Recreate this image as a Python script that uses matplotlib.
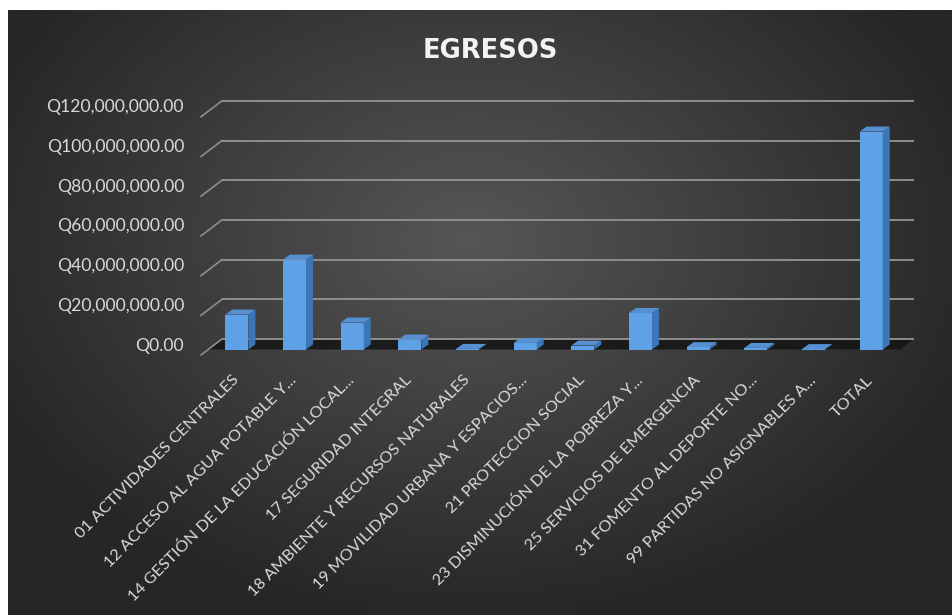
import numpy as np
import matplotlib
matplotlib.use("Agg")
import matplotlib.pyplot as plt
from matplotlib.patches import Polygon

# ---------------- data ----------------
title = "EGRESOS"
categories = [
    "01 ACTIVIDADES CENTRALES",
    "12 ACCESO AL AGUA POTABLE Y...",
    "14 GESTIÓN DE LA EDUCACIÓN LOCAL...",
    "17 SEGURIDAD INTEGRAL",
    "18 AMBIENTE Y RECURSOS NATURALES",
    "19 MOVILIDAD URBANA Y ESPACIOS...",
    "21 PROTECCION SOCIAL",
    "23 DISMINUCIÓN DE LA POBREZA Y...",
    "25 SERVICIOS DE EMERGENCIA",
    "31 FOMENTO AL DEPORTE NO...",
    "99 PARTIDAS NO ASIGNABLES A...",
    "TOTAL",
]
values = [17.6e6, 45.3e6, 13.6e6, 5.0e6, 0.3e6, 3.3e6, 2.0e6, 18.4e6, 1.2e6, 0.8e6, 0.2e6, 109.8e6]
y_ticks = [0, 20e6, 40e6, 60e6, 80e6, 100e6, 120e6]
y_tick_labels = ["Q0.00", "Q20,000,000.00", "Q40,000,000.00", "Q60,000,000.00",
                 "Q80,000,000.00", "Q100,000,000.00", "Q120,000,000.00"]

# ---------------- layout (pixels) ----------------
W, H = 952, 615
AX_L, AX_W = 208, 692          # bar plane x extent
AX_Y0, AX_H = 349.5, 238.2     # y of zero (from top) and height for 120M
BACK = (14, 10.5)              # back wall offset (px, right/up)
FRONT = (-7, -5.5)             # front plane offset
DEPTH = (7, 5)                 # bar depth offset
BAR_W = 0.4

fig = plt.figure(figsize=(W / 100, H / 100), dpi=100, facecolor="white")

# background radial gradient
bg = fig.add_axes([8 / W, 0, (W - 8) / W, (H - 10) / H])
bg.set_axis_off()
gx, gy = np.meshgrid(np.linspace(0, 1, 400), np.linspace(0, 1, 260))
cx, cy = 0.49, 0.38
r = np.sqrt(((gx - cx) / 0.75) ** 2 + ((gy - cy) / 0.85) ** 2)
r = np.clip(r / 0.75, 0, 1)
c_in, c_out = np.array([0x56, 0x56, 0x56]) / 255, np.array([0x26, 0x26, 0x26]) / 255
img = c_in[None, None, :] * (1 - r[..., None]) + c_out[None, None, :] * r[..., None]
bg.imshow(img, aspect="auto", extent=[0, 1, 0, 1], origin="upper")
bg.set_xlim(0, 1)
bg.set_ylim(0, 1)

# main axes: plane of the bars
ax = fig.add_axes([AX_L / W, (H - AX_Y0) / H, AX_W / W, AX_H / H])
ax.set_xlim(-0.5, len(categories) - 0.5)
ax.set_ylim(0, 120e6)
ax.patch.set_visible(False)
for s in ax.spines.values():
    s.set_visible(False)

ppx = AX_W / len(categories)      # px per x unit
ppy = AX_H / 120e6                # px per value unit
x0, x1 = -0.5, len(categories) - 0.5

def off(px, py):
    return px / ppx, py / ppy

bdx, bdy = off(*BACK)
fdx, fdy = off(*FRONT)
ddx, ddy = off(*DEPTH)

# floor (dark band between back wall and bar plane)
floor = Polygon([(x0, 0), (x1, 0), (x1 + bdx, bdy), (x0 + bdx, bdy)],
                closed=True, facecolor="#141414", edgecolor="none", alpha=0.85,
                zorder=1, clip_on=False)
ax.add_patch(floor)

# back-wall gridlines + left wall slants
for v in y_ticks:
    ax.plot([x0 + bdx, x1 + bdx], [v + bdy, v + bdy], color="#8e8e8e", lw=1.4,
            zorder=2, clip_on=False, solid_capstyle="butt")
    ax.plot([x0 + fdx, x0 + bdx], [v + fdy, v + bdy], color="#8e8e8e", lw=1.2,
            zorder=2, clip_on=False)

# bars: front face
xs = np.arange(len(categories))
bars = ax.bar(xs, values, width=BAR_W, color="#5fa1e6", edgecolor="none", zorder=4)
# top and side faces
for x, v in zip(xs, values):
    xl, xr = x - BAR_W / 2, x + BAR_W / 2
    top = Polygon([(xl, v), (xr, v), (xr + ddx, v + ddy), (xl + ddx, v + ddy)],
                  closed=True, facecolor="#5690d0", edgecolor="none", zorder=4, clip_on=False)
    side = Polygon([(xr, 0), (xr + ddx, ddy), (xr + ddx, v + ddy), (xr, v)],
                   closed=True, facecolor="#3b76b8", edgecolor="none", zorder=4, clip_on=False)
    ax.add_patch(side)
    ax.add_patch(top)

# x tick labels
ax.set_xticks(xs)
ax.set_xticklabels(categories, rotation=45, ha="right", va="center",
                   rotation_mode="anchor", family="Lato", fontsize=11.8, color="#d9d9d9")
ax.tick_params(axis="x", length=0, pad=20.5)
ax.set_yticks([])

# y tick labels on the front plane
lab = fig.add_axes([(AX_L + FRONT[0]) / W, (H - AX_Y0 - FRONT[1]) / H, AX_W / W, AX_H / H])
lab.set_ylim(0, 120e6)
lab.patch.set_visible(False)
for s in lab.spines.values():
    s.set_visible(False)
lab.set_xticks([])
lab.set_yticks(y_ticks)
lab.set_yticklabels(y_tick_labels, family="Lato", fontsize=12.6, color="#d9d9d9")
lab.tick_params(axis="y", length=0, pad=12.2)

# title
fig.text(490 / W, 1 - 51 / H, title, ha="center", va="center", fontsize=18.5,
         fontweight="bold", color="#f2f2f2", family="DejaVu Sans")

fig.savefig("out.png", dpi=100, facecolor="white")
